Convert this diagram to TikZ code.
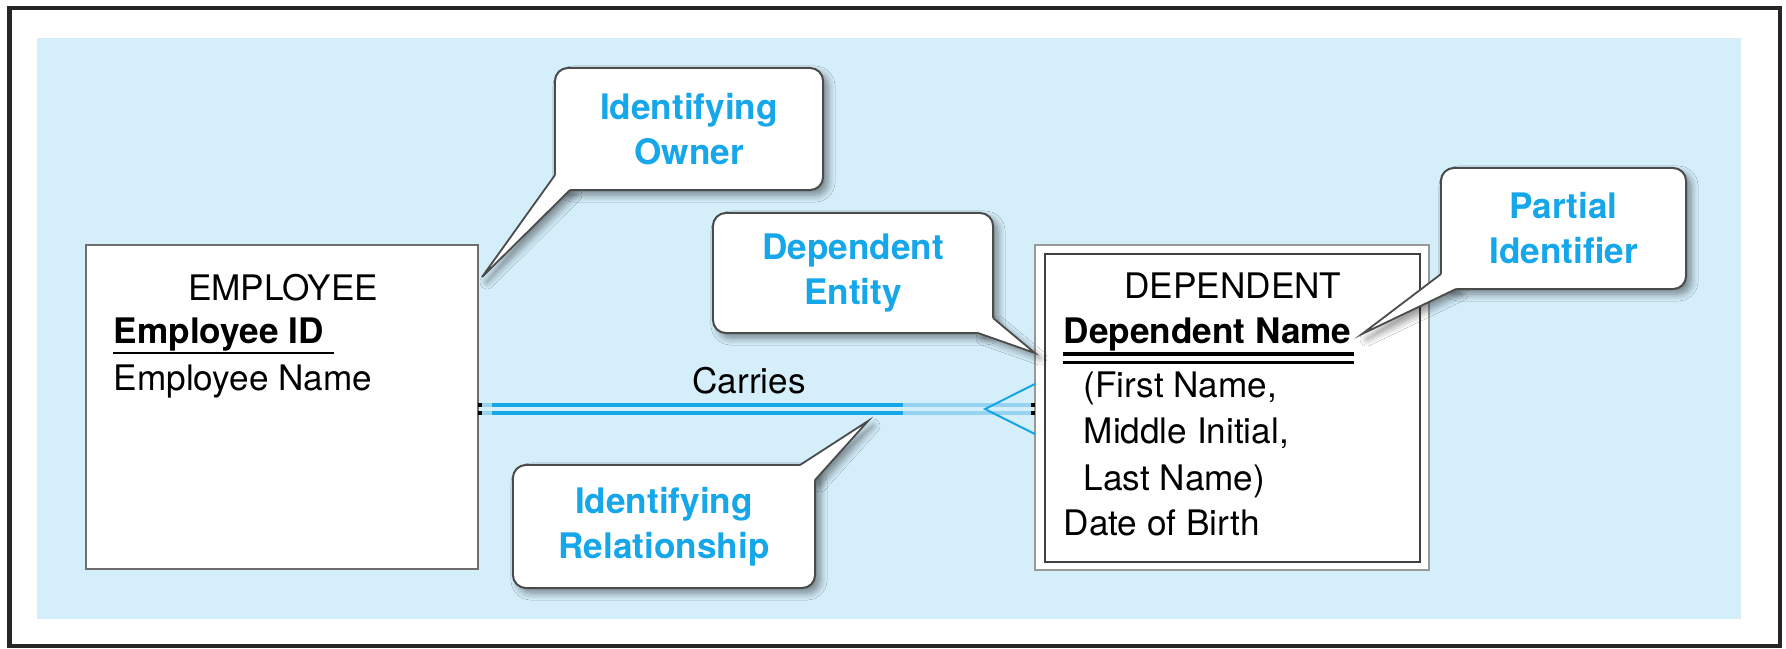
\documentclass[tikz,border=0pt]{standalone}
\usepackage{fontspec}
\setmainfont{TeX Gyre Heros}
\usetikzlibrary{calc,shadows.blur}

\definecolor{panel}{RGB}{212,238,250}
\definecolor{calltext}{RGB}{22,166,234}
\definecolor{relblue}{RGB}{20,166,230}
\definecolor{relfaint}{RGB}{150,210,242}
\definecolor{boxgray}{RGB}{110,110,110}
\definecolor{callgray}{RGB}{75,75,75}

\tikzset{
  entity/.style={draw=boxgray, line width=0.025cm, fill=white, inner sep=0, outer sep=0},
  attr/.style={anchor=base west, inner sep=0, font=\fontsize{10}{12}\selectfont},
  keyattr/.style={anchor=base west, inner sep=0, font=\bfseries\fontsize{10}{12}\selectfont},
  title/.style={anchor=base, inner sep=0, font=\fontsize{10}{12}\selectfont},
  callout/.style={draw=callgray, line width=0.02cm, fill=white, rounded corners=0.13cm,
    inner sep=0, outer sep=0, text=calltext, align=center,
    font=\bfseries\fontsize{10}{12.8}\selectfont},
  cshadow/.style={blur shadow={shadow xshift=0.05cm, shadow yshift=-0.05cm,
    shadow blur steps=8, shadow blur radius=0.07cm, shadow opacity=45}},
  tailline/.style={draw=callgray, line width=0.018cm, line join=miter},
  relline/.style={relblue, line width=0.045cm},
  relfade/.style={relfaint, line width=0.035cm},
  tick/.style={black, line width=0.04cm},
}

\begin{document}
\begin{tikzpicture}[x=0.01cm,y=-0.01cm]
\useasboundingbox (0,0) rectangle (1786,648);

% frame and panel
\draw[line width=0.04cm, black!85] (9.5,8) rectangle (1780,646);
\fill[panel] (37,38) rectangle (1741,619);

% EMPLOYEE entity
\node[entity, minimum width=3.92cm, minimum height=3.24cm] (emp) at (282,407) {};
\node[title] (empname) at (283,300) {EMPLOYEE};
\node[keyattr] (empid) at (113,343) {Employee ID};
\draw[line width=0.02cm] ($(empid.base west)+(0,10)$) -- ($(empid.base east)+(10,10)$);
\node[attr] (empnm) at (113,390) {Employee Name};

% DEPENDENT weak entity (double border)
\node[entity, draw=gray!80, line width=0.022cm, minimum width=3.94cm, minimum height=3.25cm] (dep) at (1232,407.5) {};
\node[draw=black!75, line width=0.025cm, inner sep=0, outer sep=0,
      minimum width=3.75cm, minimum height=3.08cm] (depin) at (1232.5,408) {};
\node[title] (depname) at (1233,298) {DEPENDENT};
\node[keyattr] (depnm) at (1063,343) {Dependent Name};
\draw[line width=0.035cm] ($(depnm.base west)+(0,11)$) -- ($(depnm.base east)+(2,11)$);
\draw[line width=0.035cm] ($(depnm.base west)+(0,19.5)$) -- ($(depnm.base east)+(2,19.5)$);
\node[attr] (depfn) at (1083,397) {(First Name,};
\node[attr] (depmi) at (1083,443) {Middle Initial,};
\node[attr] (depln) at (1083,490) {Last Name)};
\node[attr] (depdob) at (1063,535) {Date of Birth};

% identifying relationship "Carries"
\coordinate (fadeT) at (903,405);
\coordinate (fadeB) at (903,413);
\coordinate (crow) at (985,409);
\draw[relfade] (emp.east |- 0,405) -- (dep.west |- 0,405);
\draw[relfade] (emp.east |- 0,413) -- (dep.west |- 0,413);
\draw[relline] ($(emp.east |- 0,405)+(14,0)$) -- (fadeT);
\draw[relline] ($(emp.east |- 0,413)+(14,0)$) -- (fadeB);
\draw[relblue, line width=0.02cm] (dep.west |- 0,384) -- (crow) -- (dep.west |- 0,434);
\draw[tick] (emp.east |- 0,405) -- ++(4,0);
\draw[tick] (emp.east |- 0,413) -- ++(4,0);
\draw[tick] (dep.west |- 0,405) -- ++(-4,0);
\draw[tick] (dep.west |- 0,413) -- ++(-4,0);
\node[title] (carries) at (749,393) {Carries};

% callout: Identifying Owner
\coordinate (ownerTip) at (482,277);
\coordinate (ownerA) at (555,175);
\coordinate (ownerB) at (570,190);
\fill[white, cshadow] (ownerA) -- (ownerTip) -- (ownerB) -- cycle;
\node[callout, cshadow, minimum width=2.68cm, minimum height=1.22cm] (owner) at (689,129) {Identifying\\Owner};
\fill[white] (ownerA) -- (ownerTip) -- (ownerB) -- ($(owner.south west)+(16,-16)$) -- cycle;
\draw[tailline] (ownerA) -- (ownerTip) -- (ownerB);

% callout: Dependent Entity
\coordinate (dentTip) at (dep.west |- 0,353);
\coordinate (dentA) at (978,333);
\coordinate (dentB) at (993,318);
\fill[white, cshadow] (dentA) -- (dentTip) -- (dentB) -- cycle;
\node[callout, cshadow, minimum width=2.80cm, minimum height=1.20cm] (dent) at (853,273) {Dependent\\Entity};
\fill[white] (dentA) -- (dentTip) -- (dentB) -- ($(dent.south east)+(-16,-16)$) -- cycle;
\draw[tailline] (dentA) -- (dentTip) -- (dentB);

% callout: Partial Identifier
\coordinate (partTip) at (1362,334);
\coordinate (partA) at (1441,274);
\coordinate (partB) at (1456,289);
\fill[white, cshadow] (partA) -- (partTip) -- (partB) -- cycle;
\node[callout, cshadow, minimum width=2.45cm, minimum height=1.21cm] (part) at (1563.5,228.5) {Partial\\Identifier};
\fill[white] (partA) -- (partTip) -- (partB) -- ($(part.south west)+(16,-16)$) -- cycle;
\draw[tailline] (partA) -- (partTip) -- (partB);

% callout: Identifying Relationship
\coordinate (irelTip) at (868,421);
\coordinate (irelA) at (800,465);
\coordinate (irelB) at (815,480);
\fill[white, cshadow] (irelA) -- (irelTip) -- (irelB) -- cycle;
\node[callout, cshadow, minimum width=3.02cm, minimum height=1.23cm] (irel) at (664,526.5) {Identifying\\Relationship};
\fill[white] (irelA) -- (irelTip) -- (irelB) -- ($(irel.north east)+(-16,16)$) -- cycle;
\draw[tailline] (irelA) -- (irelTip) -- (irelB);
\end{tikzpicture}
\end{document}
